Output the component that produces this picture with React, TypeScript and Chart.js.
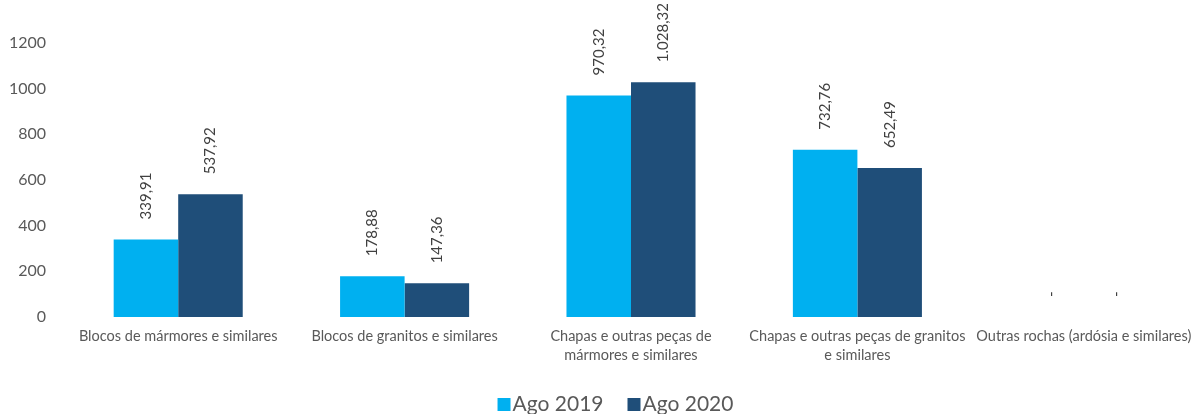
import React, { useEffect, useRef } from "react";
import { Chart, registerables } from "chart.js";

Chart.register(...registerables);

const categories: (string | string[])[] = [
  "Blocos de mármores e similares",
  "Blocos de granitos e similares",
  ["Chapas e outras peças de", "mármores e similares"],
  ["Chapas e outras peças de granitos", "e similares"],
  "Outras rochas (ardósia e similares)",
];
const ago2019 = [339.91, 178.88, 970.32, 732.76, 0];
const ago2020 = [537.92, 147.36, 1028.32, 652.49, 0];
const yTicks = [0, 200, 400, 600, 800, 1000, 1200];

function fmt(v: number): string {
  if (!v) return "-";
  const [i, d] = v.toFixed(2).split(".");
  const ii = i.replace(/\B(?=(\d{3})+(?!\d))/g, ".");
  return ii + "," + d;
}

const labelPlugin = {
  id: "vlabels",
  afterDatasetsDraw(chart: any) {
    const ctx = chart.ctx;
    ctx.save();
    ctx.font = "15px Lato";
    ctx.fillStyle = "#404040";
    ctx.textAlign = "left";
    ctx.textBaseline = "middle";
    chart.data.datasets.forEach((ds: any, di: number) => {
      const meta = chart.getDatasetMeta(di);
      meta.data.forEach((bar: any, i: number) => {
        const v = ds.data[i];
        ctx.save();
        ctx.translate(bar.x, bar.y - 20);
        ctx.rotate(-Math.PI / 2);
        ctx.fillText(fmt(v), 0, 0);
        ctx.restore();
      });
    });
    ctx.restore();
  },
};

const legendPlugin = {
  id: "customLegend",
  afterDraw(chart: any) {
    const ctx = chart.ctx;
    ctx.save();
    ctx.font = "21px Lato";
    ctx.textBaseline = "alphabetic";
    ctx.textAlign = "left";
    const box = 13, gapBox = 2, gapItem = 24;
    const items = chart.data.datasets.map((ds: any) => ({
      label: ds.label,
      color: ds.backgroundColor,
      w: box + gapBox + ctx.measureText(ds.label).width,
    }));
    const total = items.reduce((a: number, it: any) => a + it.w, 0) + gapItem * (items.length - 1);
    let x = chart.width / 2 + 17 - total / 2;
    const base = 411;
    items.forEach((it: any) => {
      ctx.fillStyle = it.color;
      ctx.fillRect(x, base - box, box, box);
      ctx.fillStyle = "#595959";
      ctx.fillText(it.label, x + box + gapBox, base);
      x += it.w + gapItem;
    });
    ctx.restore();
  },
};

export default function App() {
  const ref = useRef<HTMLCanvasElement>(null);
  useEffect(() => {
    document.body.style.margin = "0";
    const chart = new Chart(ref.current!, {
      type: "bar",
      data: {
        labels: categories,
        datasets: [
          { label: "Ago 2019", data: ago2019, backgroundColor: "#00B0F0", barPercentage: 1, categoryPercentage: 0.57 },
          { label: "Ago 2020", data: ago2020, backgroundColor: "#1F4E79", barPercentage: 1, categoryPercentage: 0.57 },
        ],
      },
      options: {
        animation: false,
        responsive: false,
        layout: { padding: { top: 43, right: 0, left: 0, bottom: 47 } },
        plugins: {
          tooltip: { enabled: false },
          legend: { display: false },
        },
        scales: {
          x: {
            grid: { display: false },
            border: { display: false },
            ticks: { color: "#595959", font: { family: "Lato", size: 14.5, lineHeight: 1.3 }, maxRotation: 0, autoSkip: false, padding: 2 },
            afterFit: (s: any) => { s.height = 50; },
          },
          y: {
            min: 0,
            max: 1200,
            grid: { display: false },
            border: { display: false },
            afterBuildTicks: (s: any) => { s.ticks = yTicks.map((v) => ({ value: v })); },
            ticks: { color: "#595959", font: { family: "Lato", size: 16 }, padding: 11, callback: (v: any) => String(v) },
            afterFit: (s: any) => { s.width = 65; },
          },
        },
      },
      plugins: [labelPlugin, legendPlugin],
    });
    return () => chart.destroy();
  }, []);
  return <canvas ref={ref} width={1197} height={414} style={{ display: "block" }} />;
}
